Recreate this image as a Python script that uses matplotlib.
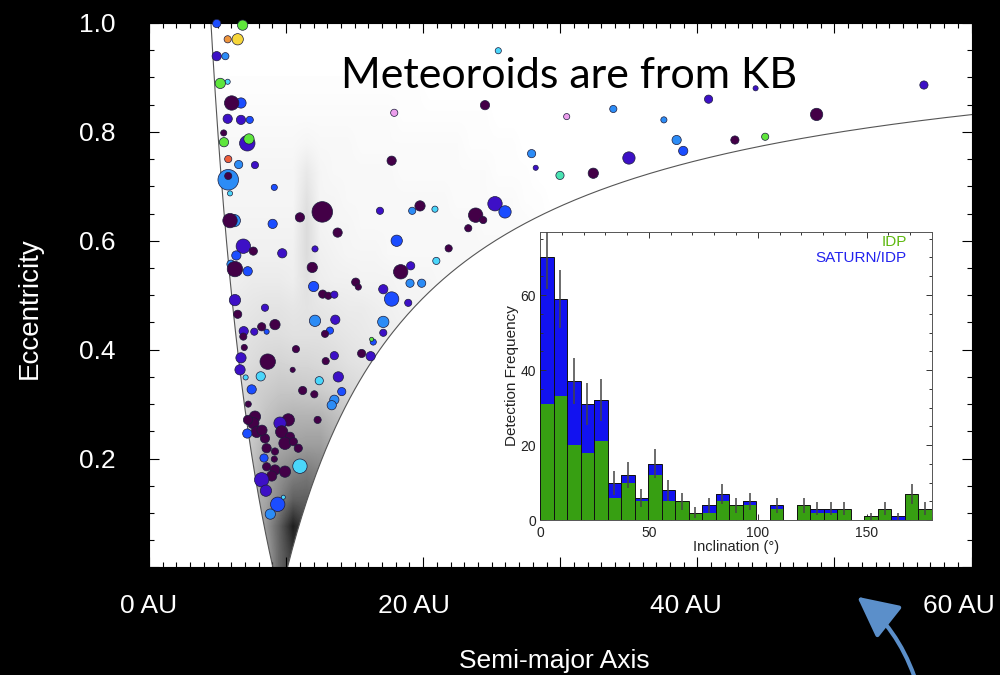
import matplotlib

matplotlib.use("Agg")

import matplotlib.pyplot as plt  # noqa: E402
import numpy as np  # noqa: E402
from matplotlib.patches import FancyArrowPatch, Polygon  # noqa: E402
from matplotlib.ticker import FuncFormatter, MultipleLocator, NullFormatter  # noqa: E402
from matplotlib.transforms import ScaledTranslation, blended_transform_factory  # noqa: E402

plt.rcParams["font.family"] = ["Liberation Sans", "DejaVu Sans"]

# --- meteoroid orbits (semi-major axis in AU, eccentricity) ---
semi_major = [
    4.94, 6.83, 5.74, 6.47, 4.94, 5.57, 5.74, 5.20, 6.71, 6.03,
    5.74, 6.71, 7.35, 5.45, 5.47, 7.17, 7.29, 5.78, 6.54, 7.73,
    5.78, 5.78, 5.91, 9.14, 6.22, 5.91, 9.02, 11.01, 12.64, 13.76,
    6.88, 6.37, 7.61, 9.72, 12.11, 5.98, 6.27, 7.20, 11.91, 12.01,
    12.67, 13.08, 13.52, 6.27, 8.46, 6.47, 12.11, 13.59, 13.20, 12.84,
    9.19, 8.22, 7.68, 8.58, 6.91, 6.88, 6.95, 10.72, 13.52, 12.89,
    6.71, 8.66, 10.48, 6.64, 13.81, 8.15, 7.05, 7.49, 11.21, 12.06,
    12.42, 14.06, 13.52, 13.33, 7.24,
    7.73, 7.61, 7.86, 8.46, 8.58, 9.19, 10.16, 9.56, 9.68, 10.28,
    9.92, 10.53, 10.89, 9.14, 8.58, 9.19, 9.92, 8.95, 8.24, 7.22,
    12.30, 7.17, 8.39, 11.01, 8.22, 8.53, 9.39, 9.80, 8.85,
    16.85, 19.20, 19.77, 20.86, 25.24, 25.97, 23.83, 24.38, 23.29, 18.07,
    21.86, 20.96, 18.36, 19.09, 15.08, 15.27, 19.04, 19.89, 17.09, 17.70,
    18.91, 17.09, 17.09, 16.36, 16.24, 15.51, 16.17,
    17.89, 17.70, 24.51, 25.48, 56.53, 44.25, 40.82, 30.47, 33.87, 37.56,
    48.70, 38.49, 38.97, 42.74, 44.95, 27.91, 28.21, 29.98, 32.41, 35.01,
]
eccentricity = [
    0.999, 0.996, 0.970, 0.970, 0.939, 0.939, 0.892, 0.889, 0.853, 0.853,
    0.824, 0.822, 0.822, 0.798, 0.781, 0.779, 0.787, 0.750, 0.740, 0.739,
    0.712, 0.719, 0.687, 0.698, 0.637, 0.637, 0.631, 0.643, 0.653, 0.615,
    0.590, 0.573, 0.581, 0.577, 0.585, 0.557, 0.548, 0.544, 0.551, 0.516,
    0.502, 0.499, 0.501, 0.491, 0.477, 0.465, 0.453, 0.455, 0.435, 0.429,
    0.446, 0.442, 0.433, 0.433, 0.434, 0.424, 0.404, 0.401, 0.389, 0.379,
    0.385, 0.378, 0.363, 0.363, 0.350, 0.351, 0.349, 0.327, 0.325, 0.318,
    0.343, 0.323, 0.308, 0.298, 0.300,
    0.277, 0.265, 0.249, 0.237, 0.219, 0.213, 0.271, 0.265, 0.249, 0.240,
    0.228, 0.231, 0.219, 0.199, 0.185, 0.179, 0.176, 0.168, 0.252, 0.271,
    0.271, 0.246, 0.201, 0.186, 0.161, 0.141, 0.116, 0.129, 0.098,
    0.655, 0.655, 0.664, 0.658, 0.668, 0.653, 0.647, 0.638, 0.623, 0.600,
    0.586, 0.563, 0.543, 0.554, 0.524, 0.515, 0.522, 0.522, 0.511, 0.493,
    0.486, 0.451, 0.431, 0.414, 0.419, 0.393, 0.388,
    0.835, 0.747, 0.849, 0.949, 0.886, 0.880, 0.860, 0.828, 0.842, 0.822,
    0.832, 0.785, 0.765, 0.785, 0.791, 0.760, 0.734, 0.720, 0.724, 0.752,
]
grain_size = [
    8, 10, 7, 11, 9, 7, 5, 10, 10, 14,
    9, 9, 7, 6, 9, 15, 10, 7, 8, 7,
    20, 7, 5, 6, 12, 14, 9, 9, 20, 9,
    14, 9, 8, 9, 6, 8, 15, 9, 10, 10,
    8, 7, 7, 11, 7, 8, 11, 9, 7, 7,
    10, 8, 7, 5, 9, 7, 6, 7, 8, 7,
    10, 15, 5, 10, 10, 9, 5, 9, 8, 7,
    8, 8, 9, 9, 6,
    11, 11, 11, 9, 9, 7, 12, 12, 12, 9,
    12, 8, 8, 6, 8, 10, 11, 10, 10, 9,
    7, 9, 8, 14, 14, 11, 14, 4, 10,
    7, 7, 10, 6, 14, 12, 14, 7, 7, 11,
    7, 7, 14, 8, 8, 6, 8, 8, 9, 14,
    7, 11, 7, 6, 4, 8, 9,
    7, 9, 9, 6, 8, 5, 8, 6, 7, 6,
    12, 9, 9, 8, 7, 8, 5, 8, 10, 12,
]
color_class = list(
    "BGOYPLCGBD"
    "PPBDGPGRLP"
    "LDCBLDBDDD"
    "PBDPPLDBDB"
    "DDPPPDLPBD"
    "DDPBPDDDPD"
    "PDDPPCCBDD"
    "CBLLD"
    "DDDDDDDPDD"
    "DDDDDDDDDD"
    "DBBCPPBCL"
    "PLDCPBDDDB"
    "DCDPDDLLPB"
    "PLPBGDP"
    "KDDCPPPKLL"
    "DLBDGLPTDP"
)

class_colors = {
    "D": "#430047",
    "P": "#3d10c6",
    "B": "#1b4dff",
    "L": "#2c8cf6",
    "C": "#4ad6fa",
    "G": "#5fe63c",
    "T": "#4ae4b2",
    "Y": "#f6d63a",
    "O": "#ee953c",
    "R": "#ee5e3a",
    "K": "#ec9eec",
}

# --- simulated dust density (percent grey), rows e = 0..0.9 step 0.05, cols a = 4..32 step 1 AU ---
dust_density = [
    [30, 30, 30, 30, 35, 60, 78, 65, 50, 40, 35, 30, 30, 30, 30, 30, 30, 30, 30, 30, 30, 30, 30, 30, 30, 30, 30, 30],
    [30, 30, 30, 30, 40, 62, 88, 70, 55, 40, 35, 30, 30, 30, 30, 30, 30, 30, 30, 30, 30, 30, 30, 30, 30, 30, 30, 30],
    [28, 28, 28, 28, 35, 48, 62, 62, 55, 42, 35, 30, 30, 30, 30, 30, 30, 30, 30, 30, 30, 30, 30, 30, 30, 30, 30, 30],
    [22, 22, 22, 25, 35, 42, 48, 52, 48, 40, 32, 28, 25, 25, 25, 25, 25, 25, 25, 25, 25, 25, 25, 25, 25, 25, 25, 25],
    [18, 18, 18, 22, 30, 34, 36, 38, 38, 32, 26, 22, 20, 20, 20, 20, 20, 20, 20, 20, 20, 20, 20, 20, 20, 20, 20, 20],
    [14, 14, 14, 18, 24, 28, 30, 30, 30, 26, 22, 18, 15, 15, 15, 15, 15, 15, 15, 15, 15, 15, 15, 15, 15, 15, 15, 15],
    [12, 12, 14, 18, 20, 22, 22, 21, 20, 18, 16, 14, 12, 10, 10, 10, 10, 10, 10, 10, 10, 10, 10, 10, 10, 10, 10, 10],
    [10, 10, 12, 14, 16, 17, 16, 16, 15, 14, 12, 11, 10, 8, 7, 7, 7, 7, 7, 7, 7, 7, 7, 7, 7, 7, 7, 7],
    [9, 9, 10, 12, 13, 13, 12, 12, 12, 11, 10, 9, 8, 7, 6, 5, 5, 5, 5, 5, 5, 5, 5, 5, 5, 5, 5, 5],
    [8, 8, 9, 10, 11, 11, 10, 11, 10, 9, 8, 8, 7, 6, 5, 5, 4, 4, 4, 4, 4, 4, 4, 4, 4, 4, 4, 4],
    [6, 6, 7, 8, 8, 8, 7, 12, 7, 6, 6, 5, 5, 5, 4, 4, 4, 3, 3, 3, 3, 3, 3, 3, 3, 3, 3, 3],
    [5, 5, 6, 6, 6, 6, 6, 14, 6, 5, 4, 4, 4, 3, 3, 3, 3, 3, 3, 3, 3, 3, 2, 2, 1, 1, 0, 0],
    [5, 5, 5, 5, 5, 5, 5, 14, 5, 4, 4, 3, 3, 3, 3, 3, 3, 3, 3, 3, 2, 2, 2, 2, 1, 1, 0, 0],
    [4, 4, 4, 4, 4, 4, 4, 12, 4, 4, 3, 3, 3, 3, 3, 3, 3, 3, 2, 2, 2, 2, 2, 1, 1, 0, 0, 0],
    [4, 4, 4, 4, 4, 4, 4, 9, 4, 3, 3, 3, 3, 3, 2, 2, 2, 2, 2, 2, 2, 1, 1, 1, 0, 0, 0, 0],
    [3, 3, 3, 3, 3, 3, 3, 4, 3, 3, 3, 2, 2, 2, 2, 2, 2, 2, 2, 1, 1, 1, 1, 0, 0, 0, 0, 0],
    [2, 2, 2, 2, 2, 2, 2, 2, 2, 2, 2, 2, 2, 2, 1, 1, 1, 1, 1, 1, 1, 0, 0, 0, 0, 0, 0, 0],
    [1, 1, 1, 1, 1, 1, 1, 1, 1, 1, 1, 1, 1, 1, 1, 1, 0, 0, 0, 0, 0, 0, 0, 0, 0, 0, 0, 0],
]

# Saturn perihelion / aphelion (AU): orbits crossing Saturn lie between these curves
saturn_peri = 9.04
saturn_aph = 10.1

# axis labels under the main panel
au_labels = ["0 AU", "20 AU", "40 AU", "60 AU"]
au_label_pos = [0, 20, 40, 60]

# --- inset: inclination histogram (29 bins over 0..180 deg) ---
incl_total = [70, 59, 37, 31, 32, 10, 12, 6, 15, 8, 5, 2, 4, 7, 4, 5, 0, 4, 0, 4, 3, 3, 3, 0, 1, 3, 1, 7, 3]
incl_idp = [31, 33, 20, 18, 21, 6, 10, 5, 12, 5, 5, 2, 2, 5, 4, 4, 0, 3, 0, 4, 2, 2, 3, 0, 1, 3, 0, 7, 3]
incl_err = [8.4, 7.7, 6.1, 5.6, 5.7, 3.2, 3.5, 2.4, 3.9, 2.8, 2.2, 1.4, 2.0, 2.6, 2.0, 2.2, 0, 2.0, 0,
            2.0, 1.7, 1.7, 1.7, 0, 1.0, 1.7, 1.0, 2.6, 1.7]

fig = plt.figure(figsize=(10, 6.75), dpi=100, facecolor="black")
ax = fig.add_axes([0.149, 0.1593, 0.8225, 0.8067])
ax.set_facecolor("white")

# grey density map clipped to the Saturn-crossing region
img = ax.imshow(np.array(dust_density, dtype=float), origin="lower", extent=(4, 32, 0, 0.9),
                cmap="gray_r", vmin=0, vmax=100, interpolation="bilinear", aspect="auto", zorder=1)
e_line = np.linspace(0, 1, 200)
a_left = saturn_peri / (1 + e_line)
a_right = np.linspace(saturn_aph, 80, 400)
e_right = 1 - saturn_aph / a_right
clip_verts = np.vstack([np.column_stack([a_left, e_line]),
                        np.column_stack([a_right[::-1], e_right[::-1]])])
clip = Polygon(clip_verts, closed=True, transform=ax.transData, facecolor="none", edgecolor="none")
ax.add_patch(clip)
img.set_clip_path(clip)

ax.plot(a_left, e_line, color="#555555", lw=0.8, zorder=2)
ax.plot(a_right, e_right, color="#555555", lw=0.8, zorder=2)

sizes = [(d * 0.74) ** 2 for d in grain_size]
colors = [class_colors[c] for c in color_class]
ax.scatter(semi_major, eccentricity, s=sizes, c=colors, edgecolors="#1c1c3c",
           linewidths=0.5, zorder=3, clip_on=False)

ax.set_xlim(0, 60)
ax.set_ylim(0, 1.0)
ax.xaxis.set_major_locator(MultipleLocator(10))
ax.xaxis.set_minor_locator(MultipleLocator(1))
ax.yaxis.set_major_locator(MultipleLocator(0.2))
ax.yaxis.set_minor_locator(MultipleLocator(0.05))
ax.xaxis.set_major_formatter(NullFormatter())
ax.yaxis.set_major_formatter(FuncFormatter(lambda v, _: "" if v < 0.01 else f"{v:.1f}"))
ax.tick_params(which="both", direction="in", top=True, right=True, color="black",
               labelcolor="white", labelsize=19, width=0.8)
ax.tick_params(which="major", length=7)
ax.tick_params(which="minor", length=3.5)
ax.tick_params(axis="y", pad=24)
for sp in ax.spines.values():
    sp.set_color("black")
    sp.set_linewidth(0.8)

# AU labels sit a little left of their ticks
label_trans = blended_transform_factory(ax.transData, ax.transAxes)
for pos, txt, shift in zip(au_label_pos, au_labels, [0, -9, -11, -13]):
    ax.text(pos, -0.048, txt, color="white", fontsize=19, ha="center", va="top",
            transform=label_trans + ScaledTranslation(shift / 100, 0, fig.dpi_scale_trans),
            clip_on=False)

fig.text(0.030, 0.5437, "Eccentricity", rotation=90, color="white", fontsize=20,
         ha="center", va="center")
fig.text(0.5545, 0.0104, "Semi-major Axis", color="white", fontsize=19,
         ha="center", va="baseline")
fig.text(0.569, 0.8696, "Meteoroids are from KB", color="black", fontsize=31,
         family=["Lato", "DejaVu Sans"], ha="center", va="baseline")

# --- inset histogram ---
ax2 = fig.add_axes([0.54, 0.2296, 0.392, 0.4267])
ax2.set_facecolor("white")
edges = np.linspace(0, 180, len(incl_total) + 1)
width = edges[1] - edges[0]
centers = edges[:-1] + width / 2
ax2.bar(centers, incl_total, width=width, color="#1212f0", edgecolor="none", zorder=1)
ax2.bar(centers, incl_idp, width=width, color="#379f12", edgecolor="none", zorder=2)
ax2.bar(centers, incl_total, width=width, fill=False, edgecolor="#111111", lw=0.7, zorder=3)
tot = np.array(incl_total, dtype=float)
err = np.array(incl_err)
has = tot > 0
ax2.vlines(centers[has], (tot - err)[has], (tot + err)[has], color="#444444", lw=1.1, zorder=4)
ax2.set_xlim(0, 180)
ax2.set_ylim(0, 76.8)
ax2.xaxis.set_major_locator(MultipleLocator(50))
ax2.xaxis.set_minor_locator(MultipleLocator(10))
ax2.yaxis.set_major_locator(MultipleLocator(20))
ax2.yaxis.set_minor_locator(MultipleLocator(5))
ax2.tick_params(which="both", direction="in", top=True, right=True, color="#333333",
                labelcolor="#222222", labelsize=10, width=0.7)
ax2.tick_params(which="major", length=4)
ax2.tick_params(which="minor", length=2.5)
ax2.tick_params(axis="x", pad=4)
ax2.tick_params(axis="y", pad=3)
ax2.set_xlabel("Inclination (°)", fontsize=10.5, color="#222222", labelpad=0)
ax2.set_ylabel("Detection Frequency", fontsize=11, color="#222222", labelpad=1)
for sp in ax2.spines.values():
    sp.set_color("#555555")
    sp.set_linewidth(0.7)
ax2.text(0.936, 0.965, "IDP", color="#5db80e", fontsize=11, ha="right", va="center",
         transform=ax2.transAxes)
ax2.text(0.936, 0.91, "SATURN/IDP", color="#2222ee", fontsize=11, ha="right", va="center",
         transform=ax2.transAxes)

arrow = FancyArrowPatch((0.915, -0.005), (0.855, 0.1185), transform=fig.transFigure,
                        connectionstyle="arc3,rad=0.15",
                        arrowstyle="-|>,head_length=1.4,head_width=0.7",
                        mutation_scale=18, color="#5b8fca", lw=3)
fig.patches.append(arrow)

fig.savefig("out.png", dpi=100, facecolor="black")
